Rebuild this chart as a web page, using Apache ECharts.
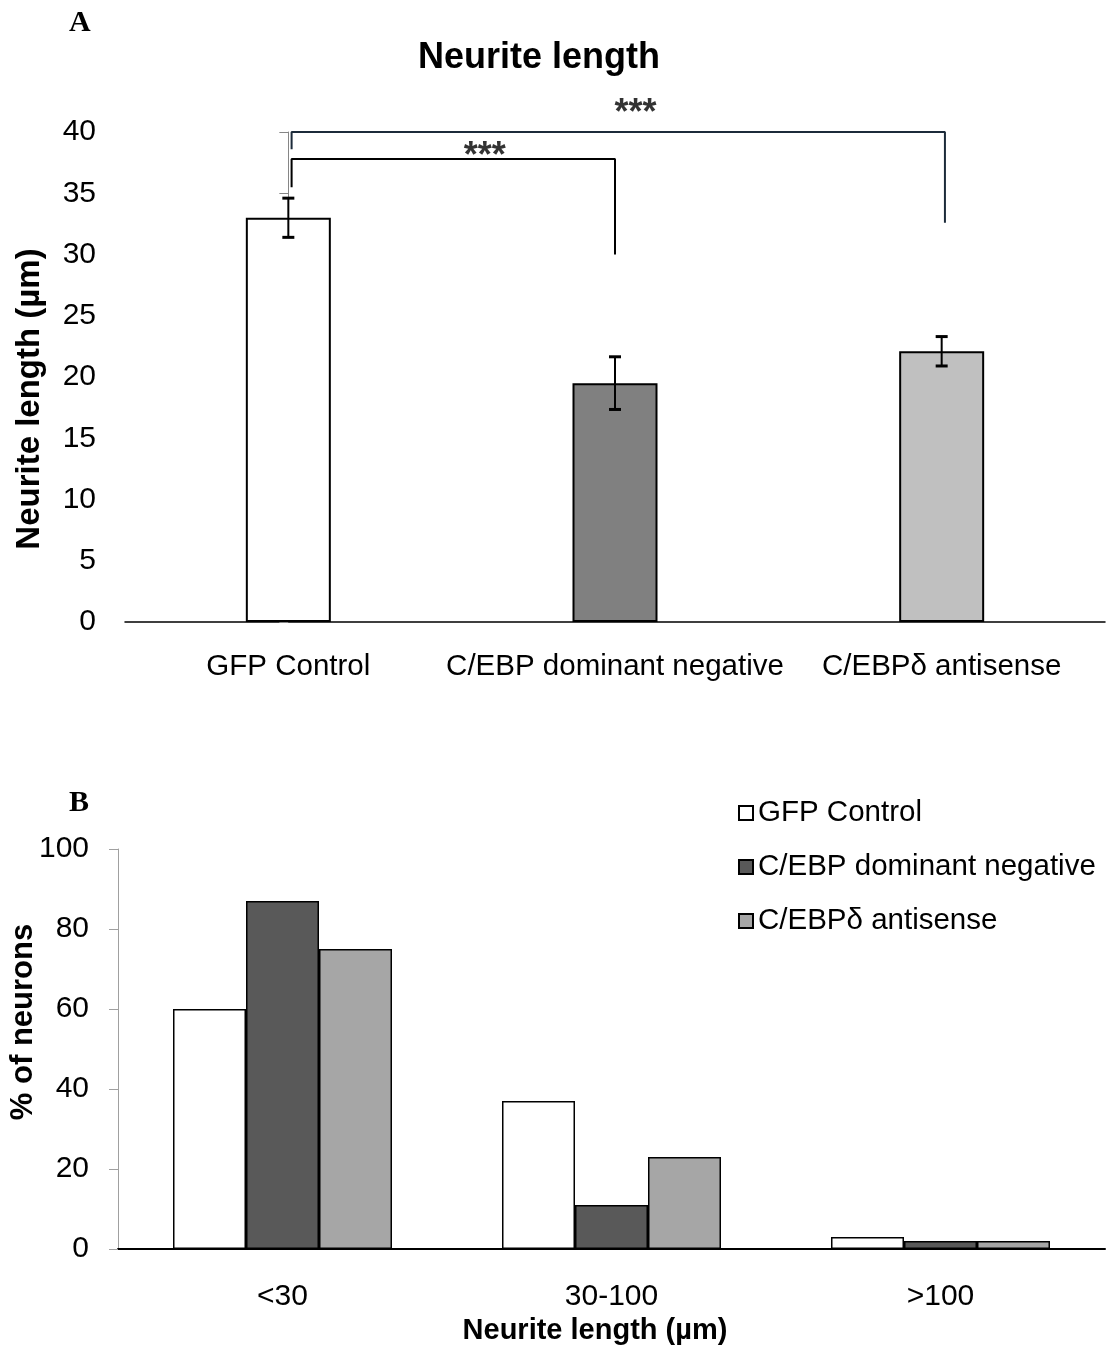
<!DOCTYPE html>
<html><head><meta charset="utf-8">
<script src="https://cdn.jsdelivr.net/npm/echarts@6/dist/echarts.min.js"></script>
<style>html,body{margin:0;padding:0;background:#fff}#c{width:1112px;height:1349px}</style>
</head><body><div id="c"></div>
<script>
// ---- Panel A data ----
const groupsA = ['GFP Control', 'C/EBP dominant negative', 'C/EBPδ antisense'];
const meanA = [33.0, 19.5, 22.1];
const errA = [1.6, 2.15, 1.2];
const colorsA = ['#ffffff', '#808080', '#c0c0c0'];
// significance annotations (category index, value)
const bracketUpper = [[0.01, 38.6], [0.01, 40], [2.01, 40], [2.01, 32.6]];
const bracketLower = [[0.01, 35.5], [0.01, 37.8], [1, 37.8], [1, 30]];
const starsA = [[1.063, 41.5], [0.601, 37.95]];

// ---- Panel B data ----
const binsB = ['<30', '30-100', '>100'];
const seriesNamesB = ['GFP Control', 'C/EBP dominant negative', 'C/EBPδ antisense'];
const gfpB = [60, 37, 3];
const dnB = [87, 11, 2];
const asB = [75, 23, 2];
const colorsB = ['#ffffff', '#595959', '#a6a6a6'];

const FONT = 'Liberation Sans, Arial, sans-serif';
const chart = echarts.init(document.getElementById('c'), null, {renderer: 'canvas'});

const option = {
  backgroundColor: '#fff',
  animation: false,
  textStyle: {fontFamily: FONT, color: '#000'},
  grid: [
    {left: 125, right: 7, top: 132, height: 490},
    {left: 118, right: 7, top: 849, height: 400}
  ],
  xAxis: [
    {type: 'category', gridIndex: 0, data: groupsA,
     axisLine: {lineStyle: {color: '#000', width: 1.5}},
     axisTick: {length: 8, lineStyle: {color: '#808080'}},
     axisLabel: {interval: 0, fontSize: 29.5, color: '#000', margin: 30, fontFamily: FONT}},
    {type: 'value', gridIndex: 0, min: -0.5, max: 2.5, show: false},
    {type: 'category', gridIndex: 1, data: binsB,
     axisLine: {lineStyle: {color: '#000', width: 2}},
     axisTick: {length: 9, lineStyle: {color: '#000', width: 1.5}},
     axisLabel: {interval: 0, fontSize: 30, color: '#000', margin: 33, fontFamily: FONT}}
  ],
  yAxis: [
    {type: 'value', gridIndex: 0, min: 0, max: 40, interval: 5,
     axisLine: {show: true, lineStyle: {color: '#868686', width: 1}},
     axisTick: {show: true, length: 9, lineStyle: {color: '#868686'}},
     splitLine: {show: false},
     axisLabel: {fontSize: 30, color: '#000', margin: 29, fontFamily: FONT}},
    {type: 'value', gridIndex: 1, min: 0, max: 100, interval: 20,
     axisLine: {show: true, lineStyle: {color: '#a0a0a0', width: 1}},
     axisTick: {show: true, length: 9, lineStyle: {color: '#a0a0a0'}},
     splitLine: {show: false},
     axisLabel: {fontSize: 30, color: '#000', margin: 29, fontFamily: FONT}}
  ],
  legend: {
    orient: 'vertical', left: 733, top: 793,
    itemWidth: 14, itemHeight: 14, itemGap: 24,
    icon: 'rect',
    textStyle: {fontSize: 29.5, color: '#000', fontFamily: FONT, lineHeight: 30},
    data: seriesNamesB
  },
  graphic: [
    {type: 'text', left: 69, top: 8, style: {text: 'A', font: 'bold 30px "Liberation Serif", serif', fill: '#000'}},
    {type: 'text', left: 69, top: 788, style: {text: 'B', font: 'bold 30px "Liberation Serif", serif', fill: '#000'}},
    {type: 'text', x: 539, y: 58, style: {text: 'Neurite length', font: 'bold 36px ' + FONT, fill: '#000', align: 'center', verticalAlign: 'middle'}},
    {type: 'text', x: 30, y: 399, rotation: Math.PI / 2, style: {text: 'Neurite length (µm)', font: 'bold 33px ' + FONT, fill: '#000', align: 'center', verticalAlign: 'middle'}},
    {type: 'text', x: 23, y: 1022, rotation: Math.PI / 2, style: {text: '% of neurons', font: 'bold 31px ' + FONT, fill: '#000', align: 'center', verticalAlign: 'middle'}},
    {type: 'text', x: 595, y: 1331, style: {text: 'Neurite length (µm)', font: 'bold 29px ' + FONT, fill: '#000', align: 'center', verticalAlign: 'middle'}}
  ],
  series: [
    {type: 'bar', xAxisIndex: 0, yAxisIndex: 0, barWidth: 85, z: 2,
     data: meanA.map((v, i) => ({value: v, itemStyle: {color: colorsA[i], borderColor: '#000', borderWidth: 2}}))},
    {type: 'custom', xAxisIndex: 1, yAxisIndex: 0, z: 10,
     data: meanA.map((m, i) => [i, m - errA[i], m + errA[i]]),
     renderItem: function (params, api) {
       const lo = api.coord([api.value(0), api.value(1)]);
       const hi = api.coord([api.value(0), api.value(2)]);
       const w = 6;
       return {type: 'group', children: [
         {type: 'line', shape: {x1: lo[0], y1: lo[1], x2: hi[0], y2: hi[1]}, style: {stroke: '#000', lineWidth: 2}},
         {type: 'line', shape: {x1: lo[0] - w, y1: lo[1], x2: lo[0] + w, y2: lo[1]}, style: {stroke: '#000', lineWidth: 3}},
         {type: 'line', shape: {x1: hi[0] - w, y1: hi[1], x2: hi[0] + w, y2: hi[1]}, style: {stroke: '#000', lineWidth: 3}}
       ]};
     }},
    {type: 'line', xAxisIndex: 1, yAxisIndex: 0, data: bracketUpper, symbol: 'none', clip: false,
     lineStyle: {color: '#1c2b3a', width: 2}, z: 5},
    {type: 'line', xAxisIndex: 1, yAxisIndex: 0, data: bracketLower, symbol: 'none', clip: false,
     lineStyle: {color: '#000', width: 2}, z: 5},
    {type: 'scatter', xAxisIndex: 1, yAxisIndex: 0, data: starsA, symbolSize: 0, clip: false, z: 6,
     label: {show: true, position: 'inside', formatter: '***', fontSize: 36, fontWeight: 'bold', color: '#000', fontFamily: FONT}},
    {name: seriesNamesB[0], type: 'bar', xAxisIndex: 2, yAxisIndex: 1, data: gfpB, barWidth: 73, barGap: '0%',
     itemStyle: {color: colorsB[0], borderColor: '#000', borderWidth: 1.5}},
    {name: seriesNamesB[1], type: 'bar', xAxisIndex: 2, yAxisIndex: 1, data: dnB, barWidth: 73, barGap: '0%',
     itemStyle: {color: colorsB[1], borderColor: '#000', borderWidth: 1.5}},
    {name: seriesNamesB[2], type: 'bar', xAxisIndex: 2, yAxisIndex: 1, data: asB, barWidth: 73, barGap: '0%',
     itemStyle: {color: colorsB[2], borderColor: '#000', borderWidth: 1.5}}
  ]
};
chart.setOption(option);
</script>
</body></html>
